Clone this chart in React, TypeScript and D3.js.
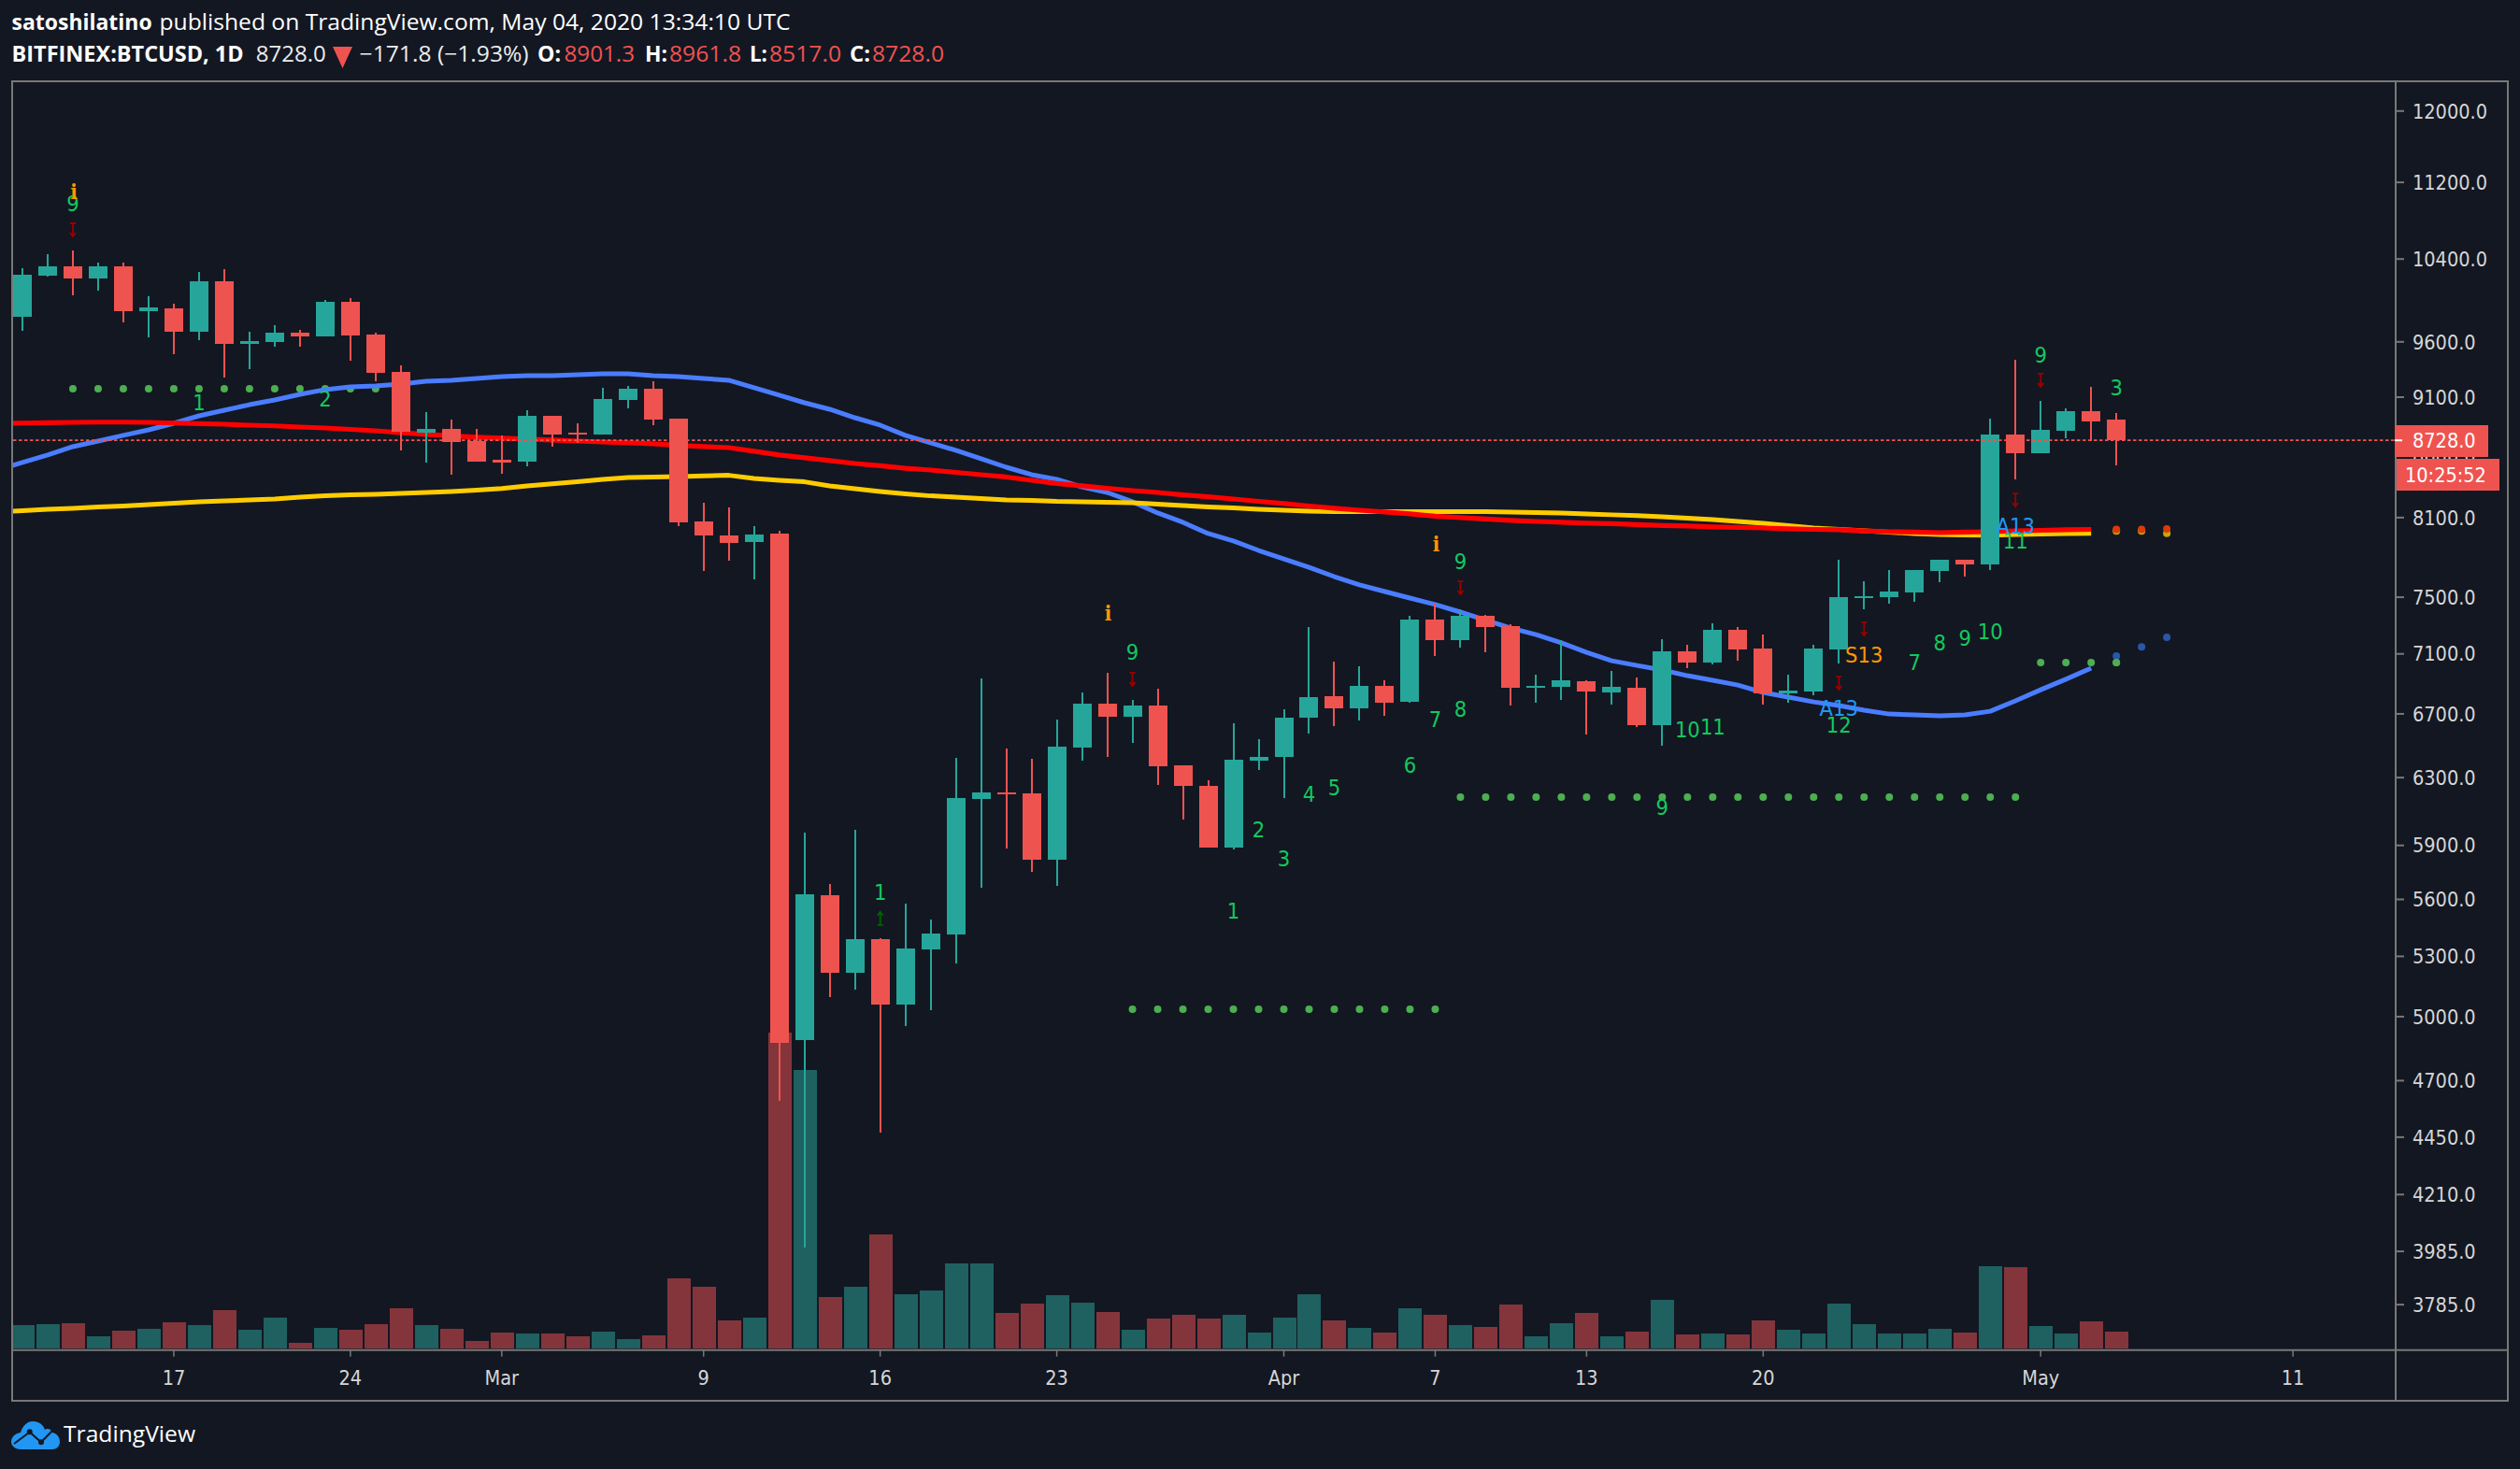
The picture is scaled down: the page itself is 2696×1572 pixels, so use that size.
import React from "react";
import * as d3 from "d3";

const W = 2696, H = 1572;
const PANE = { l: 14, r: 2563, t: 87, b: 1444.7, outerR: 2683, outerB: 1499 };

const closes = [10243,10327,10206,10327,9889,9925,9695,10179,9581,9608,9686,9651,9978,9660,9317,8801,8825,8714,8551,8543,8937,8778,8778,9084,9175,8905,8063,7961,7904,7969,4875,5628,5216,5389,5059,5340,5418,6176,6210,6199,5819,6491,6766,6681,6754,6369,6249,5888,6409,6427,6675,6809,6736,6883,6772,7339,7195,7366,7287,6871,6883,6921,6846,6877,6627,7118,7041,7267,7131,6834,6852,7138,7500,7507,7541,7699,7777,7741,8778,8621,8817,8978,8889,8728];
const opens = [9835,10234,10327,10206,10327,9889,9916,9695,10179,9581,9599,9686,9651,9978,9668,9326,8793,8825,8722,8566,8551,8937,8793,8778,9076,9175,8913,8070,7961,7911,7976,4888,5623,5216,5389,5059,5335,5413,6171,6210,6204,5819,6485,6766,6681,6754,6375,6249,5888,6404,6427,6675,6815,6736,6883,6778,7339,7195,7366,7293,6871,6877,6915,6840,6871,6627,7118,7041,7267,7138,6834,6846,7131,7494,7500,7534,7692,7777,7741,8778,8621,8809,8978,8901.3];
const highs = [10308,10449,10487,10364,10364,10033,9960,10271,10299,9695,9756,9712,9996,10015,9686,9385,8970,8905,8825,8770,8986,8937,8873,9183,9199,9241,8913,8217,8180,8034,7997,5973,5684,5990,5393,5577,5492,6421,6934,6479,6415,6663,6840,6971,6791,6865,6375,6283,6639,6538,6730,7287,7047,7015,6921,7366,7453,7413,7373,7306,6958,7195,6921,6984,6940,7202,7163,7313,7287,7234,6958,7163,7777,7616,7699,7699,7777,7777,8913,9435,9067,9002,9191,8961.8];
const lows = [9703,10225,10042,10087,9782,9642,9487,9616,9275,9351,9555,9555,9651,9426,9241,8644,8543,8443,8551,8450,8513,8675,8707,8778,9002,8857,8034,7692,7769,7630,4610,4000,5095,5132,4469,4955,5032,5264,5663,5882,5751,5674,6404,6427,6515,6255,6050,5888,5877,6346,6176,6574,6621,6657,6687,6772,7085,7143,7111,6754,6772,6791,6568,6760,6615,6497,7003,7028,7053,6760,6772,6821,7034,7413,7453,7467,7609,7651,7699,8405,8621,8746,8722,8517];
const volumes = [24.7,25.7,26.7,12.7,18.7,20.7,27.7,24.7,40.7,19.7,32.7,5.7,21.7,19.7,25.7,42.7,24.7,20.7,7.7,16.7,15.7,15.7,12.7,17.7,9.7,13.7,74.7,65.7,29.7,32.7,338,298,54.7,65.7,121.7,57.7,61.7,90.7,90.7,37.7,47.7,56.7,48.7,38.7,19.7,31.7,35.7,31.7,35.7,16.7,32.7,57.7,29.7,21.7,16.7,42.7,35.7,24.7,22.7,46.7,12.7,26.7,37.7,12.7,17.7,51.7,14.7,15.7,14.7,29.7,19.7,15.7,47.7,25.7,15.7,15.7,20.7,16.7,87.7,86.7,23.7,15.7,28.7,17.7];

// moving averages start one bar before the first visible candle
const maBlue = [8480,8543,8605,8675,8722,8770,8817,8873,8937,8986,9034,9076,9125,9167,9191,9199,9216,9241,9250,9266,9283,9291,9291,9300,9308,9308,9291,9283,9266,9250,9183,9117,9051,8994,8921,8857,8770,8707,8644,8574,8504,8443,8405,8344,8299,8225,8136,8063,7976,7919,7847,7783,7720,7651,7590,7541,7494,7447,7393,7336,7279,7234,7176,7111,7053,7021,6990,6952,6921,6889,6840,6809,6778,6754,6724,6699,6693,6687,6693,6717,6785,6858,6928,7003];
const maRed = [8873,8875,8878,8881,8883,8883,8881,8875,8870,8865,8857,8851,8841,8833,8821,8809,8793,8778,8766,8754,8746,8738,8730,8722,8714,8707,8699,8686,8675,8667,8636,8605,8582,8559,8535,8516,8496,8481,8462,8443,8424,8397,8371,8352,8333,8314,8299,8280,8265,8247,8228,8210,8191,8173,8158,8144,8129,8111,8100,8089,8078,8070,8063,8056,8052,8046,8038,8034,8027,8023,8019,8012,8008,8005,7997,7990,7987,7983,7987,7990,7997,8001,8005,8008];
const maYellow = [8144,8155,8166,8173,8183,8191,8203,8213,8225,8232,8239,8247,8262,8273,8280,8284,8291,8299,8307,8318,8331,8352,8369,8386,8405,8420,8424,8428,8433,8438,8413,8397,8385,8352,8329,8307,8288,8272,8262,8250,8239,8236,8228,8225,8221,8217,8206,8195,8184,8176,8166,8158,8151,8147,8147,8147,8147,8147,8147,8147,8144,8140,8136,8129,8122,8116,8107,8096,8085,8070,8056,8038,8019,8008,7997,7987,7976,7969,7965,7963,7969,7972,7976,7978];

const priceTicks = [12000,11200,10400,9600,9100,8600,8100,7500,7100,6700,6300,5900,5600,5300,5000,4700,4450,4210,3985,3785];
const dateTicks: [number, string][] = [[6,"17"],[13,"24"],[19,"Mar"],[27,"9"],[34,"16"],[41,"23"],[50,"Apr"],[56,"7"],[62,"13"],[69,"20"],[80,"May"],[90,"11"]];

const levelDots: [number, number, number][] = [[2,14,9175],[44,56,5036],[57,79,6182],[80,83,7041]];
const forecastBars = [83,84,85];
const forecastBlue = [7085,7149,7214];
const forecastRed = [8008,8008,8012];
const forecastYellow = [7995,7995,7978];

const tdNumbers: [string, number, number][] = [
  ["9",2,10971],["1",7,9051],["2",12,9084],["1",34,5638],["9",44,7111],["9",57,7769],["7",56,6669],["8",57,6730],["6",55,6375],["5",52,6243],["4",51,6199],["3",50,5829],["2",49,5990],["1",48,5537],["9",65,6121],["9",80,9478],["3",83,9183],["11",79,7919],["7",75,7047],["8",76,7176],["9",77,7214],["10",78,7254],["12",72,6633],["10",66,6603],["11",67,6621],
];
const countdownLabels: [string, number, number, string][] = [["S13",73,7098,"#ff9800"],["A13",79,8034,"#2196f3"],["A13",72,6736,"#2196f3"]];
const infoMarks: [number, number][] = [[2,11102],[43,7386],[56,7896]];
const downArrows: [number, number][] = [[2,10697],[44,6928],[57,7568],[80,9250],[79,8239],[73,7274],[72,6902]];
const upArrows: [number, number][] = [[34,5498]];

const BG = "#131722", BORDER = "#787878", TXT = "#d6d6d6";
const UP = "#26a69a", DOWN = "#ef5350", VUP = "#1f6060", VDOWN = "#84353b";
const FONT = "'DejaVu Sans Condensed', 'DejaVu Sans', sans-serif";
const HEAD = "'Open Sans', sans-serif";
const LAST = 8728;

// header pieces: text, start, width, weight, colour, row
const headerRow1: [string, number, number, number, string][] = [
  ["satoshilatino", 12.6, 150, 700, "#ffffff"],
  ["published on TradingView.com, May 04, 2020 13:34:10 UTC", 170.5, 675, 400, "#ffffff"],
];
const headerRow2: [string, number, number, number, string][] = [
  ["BITFINEX:BTCUSD, 1D", 12.6, 248, 700, "#ffffff"],
  ["8728.0", 273.7, 75, 400, "#ececec"],
  ["−171.8 (−1.93%)", 384.6, 181, 400, "#ececec"],
  ["O:", 575, 25, 700, "#ffffff"],
  ["8901.3", 603.5, 75.5, 400, DOWN],
  ["H:", 690, 24, 700, "#ffffff"],
  ["8961.8", 716, 77, 400, DOWN],
  ["L:", 802, 19, 700, "#ffffff"],
  ["8517.0", 823, 77, 400, DOWN],
  ["C:", 909, 22, 700, "#ffffff"],
  ["8728.0", 933, 77, 400, DOWN],
];

const x = d3.scaleLinear().domain([0, 83]).range([24, 24 + 83 * 26.99]);
const y = d3.scaleLog().domain([9600, 3785]).range([365.8, 365.8 + 1107 * Math.log(9600 / 3785)]);
const vol = d3.scaleLinear().domain([0, 338]).range([1442.7, 1104.7]);

const lineFor = (vals: number[], first = -1) =>
  d3.line<number>().x((_, i) => x(i + first)).y((v) => y(v)).curve(d3.curveLinear)(vals) as string;

export default function App() {
  return (
    <svg width={W} height={H} viewBox={`0 0 ${W} ${H}`} style={{ position: "absolute", left: 0, top: 0, background: BG, fontFamily: FONT, fontStretch: "condensed" }}>
      <defs>
        <clipPath id="pane"><rect x={PANE.l} y={PANE.t} width={PANE.r - PANE.l} height={PANE.b - PANE.t} /></clipPath>
      </defs>
      <rect width={W} height={H} fill={BG} />

      {[headerRow1, headerRow2].map((row, r) => row.map(([t, sx, w, fw, col], i) => (
        <text key={`${r}-${i}`} x={sx} y={r === 0 ? 31.5 : 65.5} fill={col} fontFamily={HEAD} fontStretch="normal" fontSize={23.5} fontWeight={fw} textLength={w} lengthAdjust="spacingAndGlyphs">{t}</text>
      )))}
      <path d="M356,50 H377 L366.5,73 Z" fill={DOWN} />

      <g clipPath="url(#pane)">
        <g shapeRendering="crispEdges">
          {volumes.map((v, i) => (
            <rect key={i} x={Math.round(x(i) - 12)} y={vol(v)} width={25} height={vol(0) - vol(v)} fill={closes[i] >= opens[i] ? VUP : VDOWN} />
          ))}
        </g>
        {levelDots.map(([a, b, p]) => d3.range(a, b + 1).map((i) => (
          <circle key={`${a}-${i}`} cx={x(i)} cy={y(p)} r={4} fill="#4caf50" />
        )))}
        <path d={lineFor(maBlue)} fill="none" stroke="#4a7dff" strokeWidth={5} strokeLinejoin="round" />
        <path d={lineFor(maYellow)} fill="none" stroke="#ffcc00" strokeWidth={5} strokeLinejoin="round" />
        <path d={lineFor(maRed)} fill="none" stroke="#ff0000" strokeWidth={5.2} strokeLinejoin="round" />
        {forecastBars.map((b, i) => (
          <g key={b}>
            <circle cx={x(b)} cy={y(forecastBlue[i])} r={4} fill="#2a56a8" />
            <circle cx={x(b)} cy={y(forecastYellow[i])} r={4} fill="#c9a600" />
            <circle cx={x(b)} cy={y(forecastRed[i])} r={4} fill="#d93a0a" />
          </g>
        ))}
        <circle cx={x(83)} cy={y(7041)} r={4} fill="#4caf50" />
        <g shapeRendering="crispEdges">
          {closes.map((c, i) => {
            const o = opens[i], col = c >= o ? UP : DOWN;
            const top = y(Math.max(o, c)), bot = y(Math.min(o, c));
            return (
              <g key={i}>
                <rect x={Math.round(x(i) - 1)} y={y(highs[i])} width={2} height={y(lows[i]) - y(highs[i])} fill={col} />
                <rect x={Math.round(x(i) - 10)} y={top} width={20} height={Math.max(bot - top, 1.5)} fill={col} />
              </g>
            );
          })}
        </g>
        <line x1={PANE.l} x2={PANE.r} y1={y(LAST)} y2={y(LAST)} stroke={DOWN} strokeWidth={1.8} strokeDasharray="3.5 2.5" />
        {tdNumbers.map(([t, b, p], i) => (
          <text key={i} x={x(b)} y={y(p)} dy="0.36em" textAnchor="middle" fill="#12c95e" fontSize={23.5}>{t}</text>
        ))}
        {countdownLabels.map(([t, b, p, col], i) => (
          <text key={i} x={x(b)} y={y(p)} dy="0.36em" textAnchor="middle" fill={col} fontSize={23.5}>{t}</text>
        ))}
        {infoMarks.map(([b, p], i) => (
          <text key={i} x={x(b) + 1} y={y(p)} dy="0.36em" textAnchor="middle" fill="#ff9800" fontSize={22} fontWeight={700} fontFamily="'DejaVu Serif', serif">i</text>
        ))}
        {downArrows.map(([b, p], i) => (
          <path key={i} transform={`translate(${x(b)},${y(p)})`} d="M-3,-7H3M0,-7V7M-3,3L0,7L3,3" fill="none" stroke="#990000" strokeWidth={1.8} />
        ))}
        {upArrows.map(([b, p], i) => (
          <path key={i} transform={`translate(${x(b)},${y(p)})`} d="M-3,7H3M0,7V-7M-3,-3L0,-7L3,-3" fill="none" stroke="#006400" strokeWidth={1.8} />
        ))}
      </g>

      {/* frame */}
      <path d={`M${PANE.l - 1},${PANE.outerB}V${PANE.t}H${PANE.outerR}V${PANE.outerB}Z`} fill="none" stroke={BORDER} strokeWidth={2} />
      <line x1={PANE.l - 1} x2={PANE.outerR} y1={PANE.b} y2={PANE.b} stroke={BORDER} strokeWidth={2} />
      <line x1={PANE.r} x2={PANE.r} y1={PANE.t} y2={PANE.outerB} stroke={BORDER} strokeWidth={2} />

      {priceTicks.map((p) => (
        <g key={p}>
          <line x1={PANE.r} x2={PANE.r + 9} y1={y(p)} y2={y(p)} stroke={BORDER} strokeWidth={2} />
          <text x={PANE.r + 18} y={y(p)} dy="0.36em" fill={TXT} fontSize={21.5}>{p.toFixed(1)}</text>
        </g>
      ))}
      {dateTicks.map(([b, t]) => (
        <g key={t}>
          <line x1={x(b)} x2={x(b)} y1={PANE.b} y2={PANE.b + 7} stroke={BORDER} strokeWidth={1.5} />
          <text x={x(b)} y={1474} dy="0.36em" textAnchor="middle" fill={TXT} fontSize={21.5}>{t}</text>
        </g>
      ))}

      <rect x={2562} y={455} width={100} height={34} fill={DOWN} />
      <line x1={2562} x2={2570} y1={y(LAST)} y2={y(LAST)} stroke="#fff" strokeWidth={2} />
      <text x={2581} y={y(LAST)} dy="0.36em" fill="#fff" fontSize={21.5}>8728.0</text>
      <rect x={2564} y={491} width={110} height={34} fill={DOWN} />
      <text x={2573} y={508} dy="0.36em" fill="#fff" fontSize={21.5}>10:25:52</text>

      <path d="M22,1551 C16,1551 12,1547 12,1543 C12,1538 16,1534 22,1533 C24,1526 29,1521 35,1521 C41,1521 46,1524 48,1530 C50,1528 55,1529 56,1533 C61,1534 64,1538 64,1543 C64,1548 60,1551 56,1551 Z" fill="#2196f3" />
      <path d="M15,1545 L31.7,1532.5 L44,1543.3 L57,1530" fill="none" stroke={BG} strokeWidth={2} />
      <circle cx={31.7} cy={1532.3} r={3} fill={BG} />
      <circle cx={44} cy={1543.3} r={3} fill={BG} />
      <text x={68} y={1543} fill="#fff" fontFamily={HEAD} fontStretch="normal" fontSize={24} textLength={141} lengthAdjust="spacingAndGlyphs">TradingView</text>
    </svg>
  );
}
